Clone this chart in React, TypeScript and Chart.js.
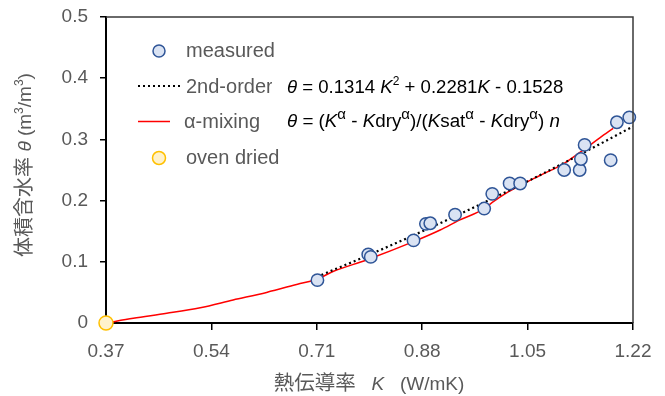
import React, { useEffect, useRef } from 'react';
import { Chart, registerables } from 'chart.js';

Chart.register(...registerables);

// ---- data ----
const measuredK = [0.711, 0.793, 0.797, 0.866, 0.886, 0.893, 0.933, 0.980, 0.993, 1.021, 1.038, 1.109, 1.134, 1.136, 1.142, 1.184, 1.194, 1.214];
const measuredTheta = [0.070, 0.112, 0.108, 0.135, 0.162, 0.163, 0.177, 0.187, 0.211, 0.228, 0.228, 0.250, 0.250, 0.268, 0.291, 0.266, 0.328, 0.336];

const ovenK = [0.37];
const ovenTheta = [0];

const fitK = [0.71, 0.79, 0.87, 0.95, 1.03, 1.11, 1.22];
const fitTheta = [0.0754, 0.1094, 0.1451, 0.1825, 0.2215, 0.2623, 0.3211];

const mixK = [0.37, 0.414, 0.468, 0.522, 0.575, 0.629, 0.683, 0.71, 0.737, 0.79, 0.866, 0.909, 0.94, 0.979, 0.993, 1.02, 1.04, 1.07, 1.109, 1.14, 1.167, 1.188];
const mixTheta = [0, 0.0077, 0.0158, 0.025, 0.0376, 0.05, 0.0645, 0.0715, 0.0845, 0.103, 0.133, 0.152, 0.168, 0.186, 0.197, 0.215, 0.226, 0.241, 0.261, 0.283, 0.303, 0.318];

const xTickValues = [0.37, 0.54, 0.71, 0.88, 1.05, 1.22];
const yTickValues = [0, 0.1, 0.2, 0.3, 0.4, 0.5];

const legendLabels = ['measured', '2nd-order', 'α-mixing', 'oven dried'];

const FONT = "'Liberation Sans', Arial, 'Noto Sans CJK JP', sans-serif";
const GRAY = '#595959';

type Seg = { t: string; i?: boolean; sup?: boolean; size?: number; supScale?: number };

function segFont(s: Seg, size: number) {
  const base = s.size ?? size;
  const sz = s.sup ? Math.round(base * (s.supScale ?? 0.62)) : base;
  return `${s.i ? 'italic ' : ''}${sz}px ${FONT}`;
}

function richWidth(ctx: CanvasRenderingContext2D, segs: Seg[], size: number) {
  let w = 0;
  for (const s of segs) {
    ctx.font = segFont(s, size);
    w += ctx.measureText(s.t).width;
  }
  return w;
}

function drawRich(ctx: CanvasRenderingContext2D, segs: Seg[], x: number, y: number, size: number, color: string, align: 'left' | 'center' = 'left') {
  let cx = x;
  if (align === 'center') cx = x - richWidth(ctx, segs, size) / 2;
  ctx.fillStyle = color;
  ctx.textBaseline = 'alphabetic';
  ctx.textAlign = 'left';
  const base = y + size * 0.35;
  for (const s of segs) {
    ctx.font = segFont(s, size);
    ctx.fillText(s.t, cx, s.sup ? base - size * 0.38 : base);
    cx += ctx.measureText(s.t).width;
  }
}

const overlayPlugin = {
  id: 'overlay',
  afterDraw(chart: any) {
    const ctx: CanvasRenderingContext2D = chart.ctx;
    const ca = chart.chartArea;
    ctx.save();
    // top & right frame
    ctx.strokeStyle = '#3a3a3a';
    ctx.lineWidth = 1.5;
    ctx.beginPath();
    ctx.moveTo(ca.left, ca.top);
    ctx.lineTo(ca.right, ca.top);
    ctx.lineTo(ca.right, ca.bottom);
    ctx.stroke();

    // legend
    const lx = ca.left;
    // measured
    ctx.beginPath();
    ctx.arc(lx + 53, 51, 6, 0, Math.PI * 2);
    ctx.fillStyle = '#DAE3F3';
    ctx.fill();
    ctx.strokeStyle = '#2F5597';
    ctx.lineWidth = 1.5;
    ctx.stroke();
    ctx.font = `20px ${FONT}`;
    ctx.fillStyle = GRAY;
    ctx.textBaseline = 'middle';
    ctx.textAlign = 'left';
    ctx.fillText(legendLabels[0], lx + 80, 51);

    // 2nd-order
    ctx.beginPath();
    ctx.setLineDash([2, 3]);
    ctx.strokeStyle = '#000';
    ctx.lineWidth = 2.2;
    ctx.moveTo(lx + 32, 86);
    ctx.lineTo(lx + 76, 86);
    ctx.stroke();
    ctx.setLineDash([]);
    ctx.save();
    ctx.beginPath();
    ctx.rect(lx + 70, 70, 272 - (lx + 70), 34);
    ctx.clip();
    ctx.font = `20px ${FONT}`;
    ctx.fillStyle = GRAY;
    ctx.fillText(legendLabels[1], lx + 80, 87);
    ctx.restore();

    // alpha-mixing
    ctx.beginPath();
    ctx.strokeStyle = '#FF0000';
    ctx.lineWidth = 1.5;
    ctx.moveTo(lx + 32, 121.5);
    ctx.lineTo(lx + 64, 121.5);
    ctx.stroke();
    ctx.font = `20px ${FONT}`;
    ctx.fillStyle = GRAY;
    ctx.fillText(legendLabels[2], lx + 78, 122);

    // oven dried
    ctx.beginPath();
    ctx.arc(lx + 53, 158, 6.5, 0, Math.PI * 2);
    ctx.fillStyle = '#FFF2CC';
    ctx.fill();
    ctx.strokeStyle = '#FFC000';
    ctx.lineWidth = 1.5;
    ctx.stroke();
    ctx.font = `20px ${FONT}`;
    ctx.fillStyle = GRAY;
    ctx.fillText(legendLabels[3], lx + 80, 158);

    // equations
    const eq1: Seg[] = [
      { t: 'θ', i: true }, { t: ' = 0.1314 ' }, { t: 'K', i: true }, { t: '2', sup: true },
      { t: ' + 0.2281' }, { t: 'K', i: true }, { t: ' - 0.1528' },
    ];
    const A = { t: 'α', sup: true, supScale: 0.8 };
    const eq2: Seg[] = [
      { t: 'θ', i: true }, { t: ' = (' }, { t: 'K', i: true }, A, { t: ' - ' },
      { t: 'K', i: true }, { t: 'dry' }, A, { t: ')/(' },
      { t: 'K', i: true }, { t: 'sat' }, A, { t: ' - ' },
      { t: 'K', i: true }, { t: 'dry' }, A, { t: ') ' }, { t: 'n', i: true },
    ];
    drawRich(ctx, eq1, 287, 86, 18.6, '#000');
    drawRich(ctx, eq2, 287, 120, 18.8, '#000');

    // axis titles
    const xTitle: Seg[] = [{ t: '熱伝導率', size: 20.5 }, { t: '   ' }, { t: 'K', i: true }, { t: '   (W/mK)' }];
    drawRich(ctx, xTitle, 369, 383, 19, GRAY, 'center');

    ctx.save();
    ctx.translate(24, 165);
    ctx.rotate(-Math.PI / 2);
    const yTitle: Seg[] = [{ t: '体積含水率', size: 20 }, { t: ' ' }, { t: 'θ', i: true }, { t: ' (m' }, { t: '3', sup: true }, { t: '/m' }, { t: '3', sup: true }, { t: ')' }];
    drawRich(ctx, yTitle, 0, 0, 19, GRAY, 'center');
    ctx.restore();

    ctx.restore();
  },
};

export default function App() {
  const ref = useRef<HTMLCanvasElement | null>(null);

  useEffect(() => {
    document.body.style.margin = '0';
    const canvas = ref.current;
    if (!canvas) return;
    const pts = (xs: number[], ys: number[]) => xs.map((x, i) => ({ x, y: ys[i] }));

    const chart = new Chart(canvas, {
      type: 'scatter',
      data: {
        datasets: [
          {
            label: legendLabels[0],
            data: pts(measuredK, measuredTheta),
            backgroundColor: '#DAE3F3',
            borderColor: '#2F5597',
            borderWidth: 1.5,
            pointRadius: 6.2,
            showLine: false,
            clip: false as any,
          },
          {
            label: legendLabels[3],
            data: pts(ovenK, ovenTheta),
            backgroundColor: '#FFF2CC',
            borderColor: '#FFC000',
            borderWidth: 1.5,
            pointRadius: 7,
            showLine: false,
            clip: false as any,
          },
          {
            label: legendLabels[1],
            data: pts(fitK, fitTheta),
            showLine: true,
            borderColor: '#000',
            borderWidth: 2.2,
            borderDash: [2, 3],
            pointRadius: 0,
            cubicInterpolationMode: 'monotone',
            fill: false,
          },
          {
            label: legendLabels[2],
            data: pts(mixK, mixTheta),
            showLine: true,
            borderColor: '#FF0000',
            borderWidth: 1.5,
            pointRadius: 0,
            cubicInterpolationMode: 'monotone',
            fill: false,
          },
        ],
      },
      options: {
        responsive: false,
        animation: false,
        devicePixelRatio: 1,
        layout: { autoPadding: false, padding: { top: 17, right: 32, left: 0, bottom: 0 } },
        plugins: { legend: { display: false }, tooltip: { enabled: false } },
        scales: {
          x: {
            type: 'linear',
            min: 0.37,
            max: 1.22,
            afterBuildTicks: (s: any) => { s.ticks = xTickValues.map((v) => ({ value: v })); },
            afterFit: (s: any) => { s.height = 73; s.paddingLeft = 0; s.paddingRight = 0; },
            ticks: {
              callback: (v: any) => Number(v).toFixed(2),
              color: GRAY,
              font: { size: 19, family: FONT },
              padding: 10,
              maxRotation: 0,
              autoSkip: false,
            },
            grid: { display: true, drawOnChartArea: false, drawTicks: true, tickLength: 7, color: '#000', lineWidth: 1.5 },
            border: { display: true, color: '#000', width: 2 },
          },
          y: {
            type: 'linear',
            min: 0,
            max: 0.5,
            afterBuildTicks: (s: any) => { s.ticks = yTickValues.map((v) => ({ value: v })); },
            afterFit: (s: any) => { s.width = 106; s.paddingTop = 0; s.paddingBottom = 0; },
            ticks: {
              callback: (v: any) => (Number(v) === 0 ? '0' : Number(v).toFixed(1)),
              color: GRAY,
              font: { size: 19, family: FONT },
              padding: 12,
              autoSkip: false,
            },
            grid: { display: true, drawOnChartArea: false, drawTicks: true, tickLength: 6, color: '#000', lineWidth: 1.5 },
            border: { display: true, color: '#000', width: 2 },
          },
        },
      },
      plugins: [overlayPlugin],
    } as any);
    return () => chart.destroy();
  }, []);

  return (
    <div style={{ width: 665, height: 396, position: 'relative', background: '#fff' }}>
      <canvas ref={ref} width={665} height={396} style={{ display: 'block', width: 665, height: 396 }} />
    </div>
  );
}
